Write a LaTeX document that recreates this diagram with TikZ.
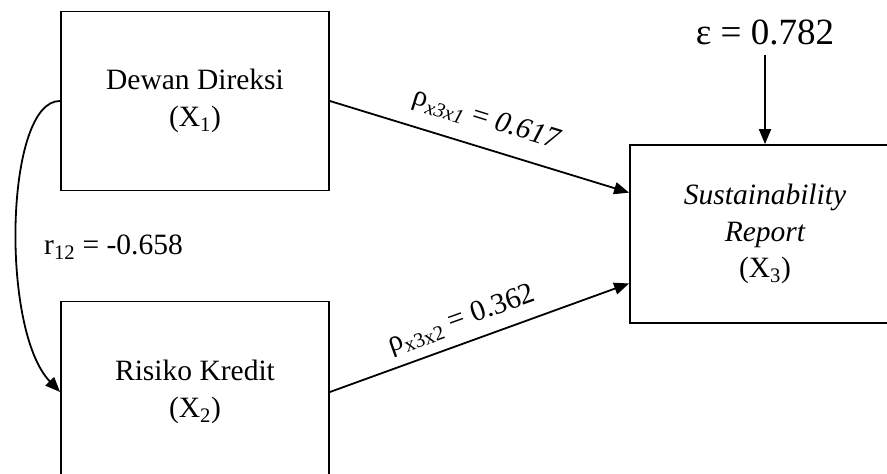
\documentclass[tikz,border=0pt]{standalone}
\usepackage{fontspec}
\setmainfont{Liberation Serif}
\usetikzlibrary{arrows.meta,calc}
\begin{document}
\begin{tikzpicture}[x=1pt,y=-1pt,
  box/.style={draw, line width=1.8pt, minimum width=268pt, minimum height=179pt, align=center, inner sep=0pt, font=\fontsize{29.5}{36.5}\selectfont},
  arr/.style={line width=1.8pt, -{Triangle[length=15pt,width=12pt]}},
  lbl/.style={font=\fontsize{29.5}{36}\selectfont, inner sep=0pt}]
\clip (0,0) rectangle (887,474);
\fill[white] (0,0) rectangle (887,474);
\node[box] (b1) at (195,101) {Dewan Direksi\\(X\textsubscript{1})};
\node[box, minimum height=181pt] (b2) at (195,392) {Risiko Kredit\\(X\textsubscript{2})};
\node[box, minimum width=270pt, minimum height=178pt] (b3) at (765,234) {\itshape Sustainability\\\itshape Report\\(X\textsubscript{3})};
\node[inner sep=0pt, font=\fontsize{37}{40}\selectfont] (eps) at (765,32) {ε = 0.782};
\coordinate (et) at (765,55);
\draw[arr] (et) -- (b3.north);
\draw[arr] (b1.east) -- ($(b3.north west)!0.27!(b3.south west)$);
\draw[arr] (b2.east) -- ($(b3.north west)!0.775!(b3.south west)$);
\draw[arr] (b1.west) .. controls (5,100) and (0,330) .. (b2.west);
\node[lbl, rotate=-17.2] (p1) at (486,120) {ρ\textsubscript{\itshape x3x1} = \itshape 0.617};
\node[lbl, rotate=19.7] (p2) at (462,320) {ρ\textsubscript{x3x2} = 0.362};
\node[lbl, anchor=west] (r) at (44,247) {r\textsubscript{12} = -0.658};
\end{tikzpicture}
\end{document}
